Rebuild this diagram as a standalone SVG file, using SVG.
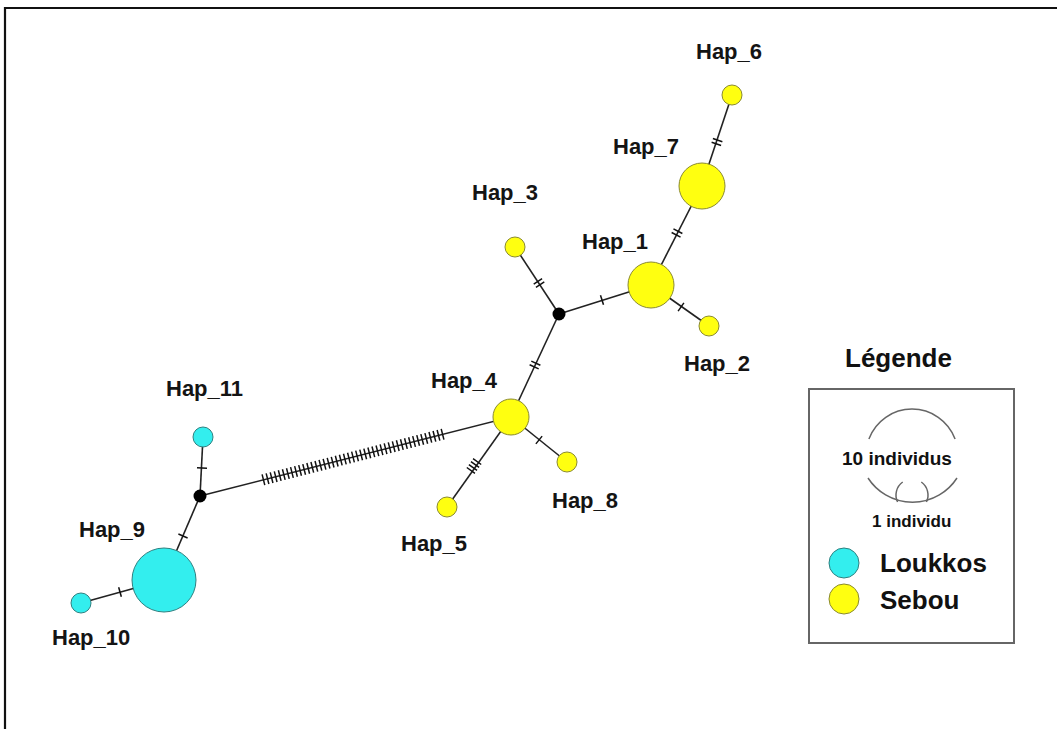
<svg xmlns="http://www.w3.org/2000/svg" width="1057" height="729" viewBox="0 0 1057 729">
<style>
.edge{stroke:#222;stroke-width:1.6;fill:none}
.tick{stroke:#111;stroke-width:1.5;fill:none}
.sebou{fill:#ffff10;stroke:#8a8a30;stroke-width:1}
.louk{fill:#33eeee;stroke:#2f8080;stroke-width:1}
.median{fill:#000}
.lbl{font-family:"Liberation Sans",Arial,sans-serif;font-weight:bold;font-size:22px;fill:#141414}
.leg{font-family:"Liberation Sans",Arial,sans-serif;font-weight:bold;fill:#111}
.arc{stroke:#666;stroke-width:1.5;fill:none}
</style>
<rect width="1057" height="729" fill="#fff"/>
<path d="M1057,8 H5 V729" stroke="#111" stroke-width="2.2" fill="none"/>

<g id="connectors">
<line class="edge" x1="732" y1="95" x2="702" y2="185"/>
<line class="edge" x1="702" y1="185" x2="651" y2="285"/>
<line class="edge" x1="651" y1="285" x2="709" y2="326"/>
<line class="edge" x1="559" y1="314" x2="651" y2="285"/>
<line class="edge" x1="515" y1="247" x2="559" y2="314"/>
<line class="edge" x1="559" y1="314" x2="511" y2="417"/>
<line class="edge" x1="511" y1="417" x2="567" y2="462"/>
<line class="edge" x1="511" y1="417" x2="447" y2="507"/>
<line class="edge" x1="200" y1="496" x2="511" y2="417"/>
<line class="edge" x1="203" y1="437" x2="200" y2="496"/>
<line class="edge" x1="200" y1="496" x2="164" y2="580"/>
<line class="edge" x1="164" y1="580" x2="81" y2="603"/>
<path class="tick" transform="translate(717,142) rotate(108.4)" d="M-2,-5v10M2,-5v10"/>
<path class="tick" transform="translate(677,233) rotate(117)" d="M-2,-5v10M2,-5v10"/>
<path class="tick" transform="translate(681,307) rotate(35.3)" d="M0,-5v10"/>
<path class="tick" transform="translate(602,300) rotate(-17.5)" d="M0,-5v10"/>
<path class="tick" transform="translate(539,283) rotate(56.7)" d="M-2,-5v10M2,-5v10"/>
<path class="tick" transform="translate(535,365) rotate(115)" d="M-2,-5v10M2,-5v10"/>
<path class="tick" transform="translate(539,440) rotate(38.8)" d="M0,-5v10"/>
<path class="tick" transform="translate(474,466) rotate(125.4)" d="M-5.4,-5v10M-1.8,-5v10M1.8,-5v10M5.4,-5v10"/>
<path class="tick" transform="translate(353,457) rotate(-14.25)" d="M-92.4,-5.5v11M-88.2,-5.5v11M-84,-5.5v11M-79.8,-5.5v11M-75.6,-5.5v11M-71.4,-5.5v11M-67.2,-5.5v11M-63,-5.5v11M-58.8,-5.5v11M-54.6,-5.5v11M-50.4,-5.5v11M-46.2,-5.5v11M-42,-5.5v11M-37.8,-5.5v11M-33.6,-5.5v11M-29.4,-5.5v11M-25.2,-5.5v11M-21,-5.5v11M-16.8,-5.5v11M-12.6,-5.5v11M-8.4,-5.5v11M-4.2,-5.5v11M0,-5.5v11M4.2,-5.5v11M8.4,-5.5v11M12.6,-5.5v11M16.8,-5.5v11M21,-5.5v11M25.2,-5.5v11M29.4,-5.5v11M33.6,-5.5v11M37.8,-5.5v11M42,-5.5v11M46.2,-5.5v11M50.4,-5.5v11M54.6,-5.5v11M58.8,-5.5v11M63,-5.5v11M67.2,-5.5v11M71.4,-5.5v11M75.6,-5.5v11M79.8,-5.5v11M84,-5.5v11M88.2,-5.5v11M92.4,-5.5v11"/>
<path class="tick" transform="translate(202,468) rotate(92.9)" d="M0,-5v10"/>
<path class="tick" transform="translate(183,536) rotate(113.2)" d="M0,-5v10"/>
<path class="tick" transform="translate(120,592) rotate(164.5)" d="M0,-5v10"/>
</g>

<g id="hap6"><circle class="sebou" cx="732" cy="95" r="10"/><text class="lbl" x="696" y="59">Hap_6</text></g>
<g id="hap7"><circle class="sebou" cx="702" cy="186" r="23"/><text class="lbl" x="613" y="154">Hap_7</text></g>
<g id="hap1"><circle class="sebou" cx="651" cy="285" r="23"/><text class="lbl" x="582" y="249">Hap_1</text></g>
<g id="hap2"><circle class="sebou" cx="709" cy="326" r="10"/><text class="lbl" x="684" y="371">Hap_2</text></g>
<g id="hap3"><circle class="sebou" cx="515" cy="247" r="10"/><text class="lbl" x="472" y="200">Hap_3</text></g>
<g id="median1"><circle class="median" cx="559" cy="314" r="6.5"/></g>
<g id="hap4"><circle class="sebou" cx="511" cy="417" r="18"/><text class="lbl" x="431" y="388">Hap_4</text></g>
<g id="hap8"><circle class="sebou" cx="567" cy="462" r="10"/><text class="lbl" x="552" y="508">Hap_8</text></g>
<g id="hap5"><circle class="sebou" cx="447" cy="507" r="10"/><text class="lbl" x="401" y="551">Hap_5</text></g>
<g id="median2"><circle class="median" cx="200" cy="496" r="6.5"/></g>
<g id="hap11"><circle class="louk" cx="203" cy="437" r="10"/><text class="lbl" x="166" y="396">Hap_11</text></g>
<g id="hap9"><circle class="louk" cx="164" cy="580" r="32"/><text class="lbl" x="79" y="537">Hap_9</text></g>
<g id="hap10"><circle class="louk" cx="81" cy="603" r="10"/><text class="lbl" x="52" y="645">Hap_10</text></g>

<g id="legend">
<text class="leg" x="845" y="367" font-size="26">Légende</text>
<rect x="809" y="389" width="205" height="254" fill="none" stroke="#666" stroke-width="2"/>
<path class="arc" d="M868.9,439 A46,46 0 0 1 955.1,439"/>
<path class="arc" d="M868,478 A53,53 0 0 0 957,478"/>
<path class="arc" d="M902.7,482 A16,16 0 0 0 897.6,502"/>
<path class="arc" d="M921.3,482 A16,16 0 0 1 926.4,502"/>
<text class="leg" x="842" y="465" font-size="19">10 individus</text>
<text class="leg" x="872" y="527" font-size="17">1 individu</text>
<circle class="louk" cx="844" cy="563" r="15"/>
<circle class="sebou" cx="844" cy="599" r="15"/>
<text class="leg" x="880" y="572" font-size="26">Loukkos</text>
<text class="leg" x="880" y="609" font-size="26">Sebou</text>
</g>
</svg>
